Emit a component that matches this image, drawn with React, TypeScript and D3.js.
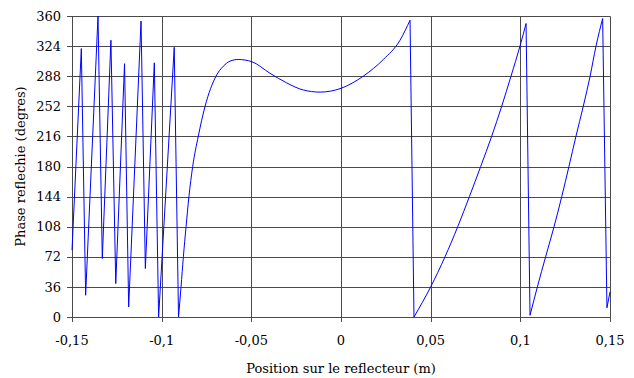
import React from "react";
import * as d3 from "d3";

const xTicks = [-0.15, -0.1, -0.05, 0, 0.05, 0.1, 0.15];
const xTickLabels = ["-0,15", "-0,1", "-0,05", "0", "0,05", "0,1", "0,15"];
const yTicks = [0, 36, 72, 108, 144, 180, 216, 252, 288, 324, 360];

const positions = [
  -0.15, -0.1448, -0.1424, -0.1355, -0.1331, -0.1283, -0.1256, -0.1207, -0.1184,
  -0.1115, -0.1091, -0.1041, -0.1017, -0.093, -0.0906, -0.0892, -0.0879, -0.0864,
  -0.0848, -0.0827, -0.0796, -0.0758, -0.0697, -0.0656, -0.0619, -0.0573, -0.0498,
  -0.0396, -0.0303, -0.021, -0.0117, 0.0, 0.0124, 0.0236, 0.0329, 0.0385, 0.0407,
  0.05, 0.058, 0.0651, 0.0716, 0.0779, 0.084, 0.0896, 0.0948, 0.0998, 0.1032,
  0.1054, 0.1095, 0.1141, 0.1188, 0.1231, 0.1271, 0.131, 0.1351, 0.1389, 0.1422,
  0.1459, 0.1483, 0.15,
];
const phases = [
  80, 321, 26, 360, 70, 331, 40, 303, 12,
  354, 58, 304, 0, 322.5, 0, 36, 72, 108,
  144, 180, 216, 252, 288, 300, 306, 308, 305.4,
  291.5, 280, 271.5, 269, 273.5, 288, 308, 331, 355, 0,
  36, 72, 108, 144, 180, 216, 252, 288, 324, 351,
  2, 36, 72, 108, 144, 180, 216, 252, 288, 324,
  357, 11, 30,
];

// [first index, last index, smooth?]
const runs: [number, number, boolean][] = [
  [0, 14, false],
  [14, 35, true],
  [35, 36, false],
  [36, 46, true],
  [46, 47, false],
  [47, 57, true],
  [57, 59, false],
];

const W = 634;
const H = 378;
const M = { left: 72, right: 24, top: 16, bottom: 61 };
const FONT = "DejaVu Serif";
const FS = 13;

export default function App() {
  const x = d3.scaleLinear().domain([-0.15, 0.15]).range([M.left, W - M.right]);
  const y = d3.scaleLinear().domain([0, 360]).range([H - M.bottom, M.top]);
  const data = positions.map((p, i) => [p, phases[i]] as [number, number]);
  const mk = (smooth: boolean) =>
    d3
      .line<[number, number]>()
      .x((d) => x(d[0]))
      .y((d) => y(d[1]))
      .curve(smooth ? d3.curveMonotoneX : d3.curveLinear);
  const grid = "#4a4a4a";
  return (
    <svg
      width={W}
      height={H}
      style={{ position: "absolute", left: 0, top: 0, background: "#fff" }}
    >
      {yTicks.map((t) => (
        <line
          key={"gy" + t}
          x1={x(-0.15) - 5}
          x2={x(0.15) + 0.5}
          y1={Math.round(y(t)) + 0.5}
          y2={Math.round(y(t)) + 0.5}
          stroke={grid}
          strokeWidth={1}
        />
      ))}
      {xTicks.map((t) => (
        <line
          key={"gx" + t}
          x1={Math.round(x(t)) + 0.5}
          x2={Math.round(x(t)) + 0.5}
          y1={Math.round(y(360)) + 0.5}
          y2={y(0) + 5}
          stroke={grid}
          strokeWidth={1}
        />
      ))}
      {runs.map(([a, b, smooth], i) => (
        <path
          key={"r" + i}
          d={mk(smooth)(data.slice(a, b + 1)) || ""}
          fill="none"
          stroke="#0000ff"
          strokeWidth={1}
        />
      ))}
      {yTicks.map((t) => (
        <text
          key={"ly" + t}
          x={x(-0.15) - 11}
          y={y(t)}
          dy="0.36em"
          textAnchor="end"
          fontFamily={FONT}
          fontSize={FS}
          fill="#000"
        >
          {t}
        </text>
      ))}
      {xTicks.map((t, i) => (
        <text
          key={"lx" + t}
          x={x(t)}
          y={y(0) + 28}
          textAnchor="middle"
          fontFamily={FONT}
          fontSize={FS}
          fill="#000"
        >
          {xTickLabels[i]}
        </text>
      ))}
      <text
        x={341}
        y={373}
        textAnchor="middle"
        fontFamily={FONT}
        fontSize={FS}
        fill="#000"
      >
        Position sur le reflecteur (m)
      </text>
      <text
        transform={`translate(25, ${(y(0) + y(360)) / 2}) rotate(-90)`}
        textAnchor="middle"
        fontFamily={FONT}
        fontSize={FS}
        fill="#000"
      >
        Phase reflechie (degres)
      </text>
    </svg>
  );
}
